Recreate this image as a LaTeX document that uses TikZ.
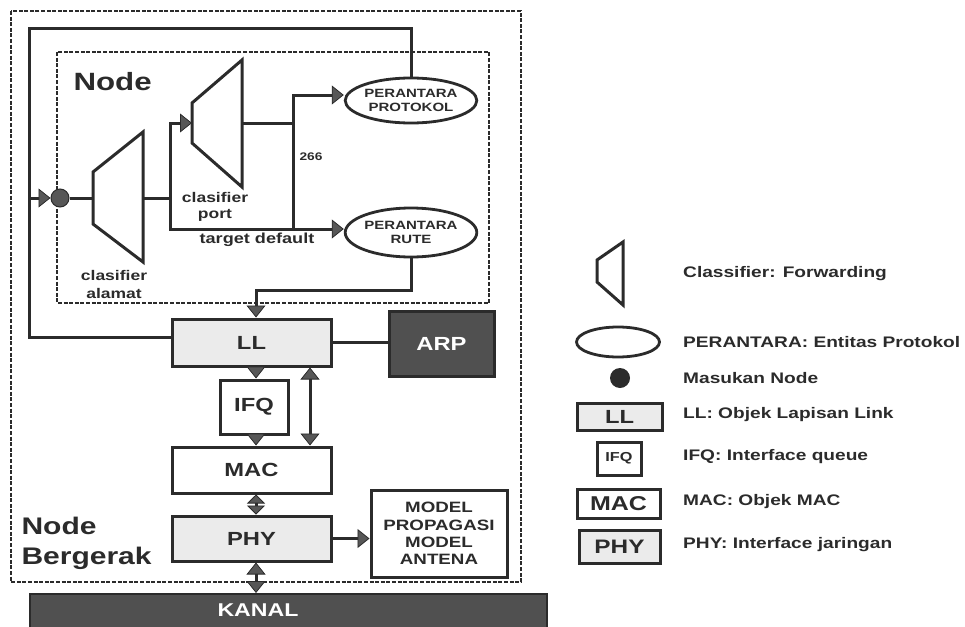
\documentclass[tikz,border=0pt]{standalone}
\usepackage{fontspec}
\setmainfont{Liberation Sans}[FakeStretch=1.25]
\usetikzlibrary{arrows.meta,shapes.geometric}
\definecolor{ink}{HTML}{2B2B2B}
\definecolor{lite}{HTML}{EBEBEB}
\definecolor{darkfill}{HTML}{505050}
\definecolor{tipfill}{HTML}{575757}
\newcommand\fsz[2]{\fontsize{#1pt}{#2pt}\selectfont}
\begin{document}
\begin{tikzpicture}[x=1pt,y=-1pt,
  every node/.style={text=ink,font=\bfseries},
  ln/.style={draw=ink,line width=3pt},
  tipA/.tip={Triangle[length=12pt,width=19pt,line width=0.8pt,fill=tipfill]},
  tipS/.tip={Triangle[length=9pt,width=18pt,line width=0.8pt,fill=tipfill]},
  arr/.style={-{tipA}},
  darr/.style={{tipA}-{tipA}},
  sdarr/.style={{tipS}-{tipS}},
  lbox/.style={draw=ink,line width=3pt,rectangle,inner sep=0pt},
  ell/.style={draw=ink,line width=2.8pt,ellipse,inner sep=0pt,align=center},
  dashbox/.style={draw=ink,line width=1.4pt,dash pattern=on 4pt off 1.6pt},
  lgtext/.style={anchor=west,inner sep=0pt,font=\bfseries\fsz{15.3}{18}}
]
\useasboundingbox (0,0) rectangle (965,626);

% dashed frames
\draw[dashbox] (11,11) rectangle (521,582);
\draw[dashbox] (57,52) rectangle (489,303);

% coordinates
\coordinate (lpTL) at (29,29);
\coordinate (lpDot) at (29,198);
\coordinate (lpBL) at (29,337);
\coordinate (alIn) at (93,198);
\coordinate (alOut) at (143,198);
\coordinate (brMid) at (170,198);
\coordinate (brTop) at (170,123);
\coordinate (brBot) at (170,229);
\coordinate (ptIn) at (192,123);
\coordinate (ptOut) at (242,123);
\coordinate (jMid) at (293,123);
\coordinate (jTop) at (293,95);
\coordinate (jBot) at (293,229);
\coordinate (rl) at (256,290);
\coordinate (colA) at (256,0);
\coordinate (colB) at (310,0);

% ellipses
\node[ell,minimum width=128pt,minimum height=45pt,font=\bfseries\fsz{12}{14.5}] (PROT) at (411,100.5)
  {PERANTARA\\PROTOKOL};
\node[ell,minimum width=128pt,minimum height=49pt,font=\bfseries\fsz{12}{14}] (RUTE) at (411,232.5)
  {PERANTARA\\RUTE};

% node entry dot
\node[circle,fill=tipfill,draw=ink,line width=1pt,minimum size=18pt,inner sep=0pt] (dot) at (60,198) {};

% classifiers
\draw[ln] (93,172) -- (143,132) -- (143,262) -- (93,224) -- cycle;
\draw[ln] (192,103) -- (242,60) -- (242,187) -- (192,143) -- cycle;

% boxes
\node[lbox,fill=lite,minimum width=159pt,minimum height=47pt,font=\bfseries\fsz{19}{22}] (LL) at (251.5,342.5) {LL};
\node[lbox,fill=white,minimum width=68pt,minimum height=54pt,font=\bfseries\fsz{19}{22}] (IFQ) at (254,407) {IFQ};
\node[lbox,fill=white,minimum width=159pt,minimum height=46pt,font=\bfseries\fsz{19}{22}] (MAC) at (251.5,470) {MAC};
\node[lbox,fill=lite,minimum width=159pt,minimum height=45pt,font=\bfseries\fsz{19}{22}] (PHY) at (251.5,538.5) {PHY};
\node[lbox,fill=darkfill,minimum width=105pt,minimum height=65pt,text=white,font=\bfseries\fsz{19}{22}] (ARP) at (441.5,343.5) {ARP};
\node[lbox,fill=white,minimum width=136pt,minimum height=87pt,align=center,font=\bfseries\fsz{15}{17.4}] (MODEL) at (439,533.5)
  {MODEL\\PROPAGASI\\MODEL\\ANTENA};
\node[draw=ink,line width=1.5pt,fill=darkfill,minimum width=517pt,minimum height=36pt,inner sep=0pt,anchor=north west] (KANAL) at (29,593) {};
\node[text=white,font=\bfseries\fsz{18.5}{20}] (kanaltext) at (258,610) {KANAL};

% labels
\node[anchor=west,font=\bfseries\fsz{25}{28}] (lblNode) at (70,82) {Node};
\node[align=center,font=\bfseries\fsz{14}{16}] (lblPort) at (215,207) {clasifier\\port};
\node[font=\bfseries\fsz{14.5}{16}] (lblTarget) at (257,240) {target default};
\node[align=center,font=\bfseries\fsz{14}{18}] (lblAlamat) at (114,284) {clasifier\\alamat};
\node[anchor=west,font=\bfseries\fsz{11}{13}] (lbl266) at (296,157) {266};
\node[anchor=west,align=left,font=\bfseries\fsz{24}{30}] (lblBergerak) at (18,543) {Node\\Bergerak};

% connectors
\draw[ln] (PROT.north) -- (PROT.north |- lpTL) -- (lpTL) -- (lpBL) -- (lpBL -| LL.west);
\draw[ln,arr] (lpDot) -- (dot.west);
\draw[ln] (dot.east) -- (alIn);
\draw[ln] (alOut) -- (brMid);
\draw[ln,darr] (ptIn) -- (brTop) -- (brBot) -- (RUTE.west |- brBot);
\draw[ln] (ptOut) -- (jMid);
\draw[ln,arr] (jBot) -- (jTop) -- (PROT.west |- jTop);
\draw[ln,arr] (RUTE.south) -- (RUTE.south |- rl) -- (rl) -- (rl |- LL.north);
\draw[ln] (LL.east) -- (ARP.west |- LL.east);
\draw[ln,arr] (LL.south -| colA) -- (IFQ.north -| colA);
\draw[ln,arr] (IFQ.south -| colA) -- (MAC.north -| colA);
\draw[ln,darr] (LL.south -| colB) -- (MAC.north -| colB);
\draw[ln,sdarr] (MAC.south -| colA) -- (PHY.north -| colA);
\draw[ln,darr] (PHY.south -| colA) -- (KANAL.north -| colA);
\draw[ln,arr] (PHY.east) -- (MODEL.west |- PHY.east);

% legend
\draw[ln] (597,260) -- (623,242) -- (623,305) -- (597,282) -- cycle;
\node[lgtext] (lg1) at (683,274) {Classifier: Forwarding};
\node[ell,minimum width=83pt,minimum height=30pt] (lgEll) at (618,342) {};
\node[lgtext] (lg2) at (683,342) {PERANTARA: Entitas Protokol};
\node[circle,fill=ink,minimum size=20pt,inner sep=0pt] (lgDot) at (620,378) {};
\node[lgtext] (lg3) at (683,378) {Masukan Node};
\node[lbox,fill=lite,minimum width=85pt,minimum height=27pt,font=\bfseries\fsz{19}{20}] (lgLL) at (619.5,416.5) {LL};
\node[lgtext] (lg4) at (683,415) {LL: Objek Lapisan Link};
\node[lbox,fill=white,minimum width=44pt,minimum height=33pt,font=\bfseries\fsz{13}{14}] (lgIFQ) at (619,458.5) {IFQ};
\node[lgtext] (lg5) at (683,457) {IFQ: Interface queue};
\node[lbox,fill=white,minimum width=83pt,minimum height=29pt,font=\bfseries\fsz{20}{21}] (lgMAC) at (618.5,503.5) {MAC};
\node[lgtext] (lg6) at (683,502) {MAC: Objek MAC};
\node[lbox,fill=lite,minimum width=81pt,minimum height=33pt,font=\bfseries\fsz{19.5}{21}] (lgPHY) at (619.5,546.5) {PHY};
\node[lgtext] (lg7) at (683,545) {PHY: Interface jaringan};
\end{tikzpicture}
\end{document}
